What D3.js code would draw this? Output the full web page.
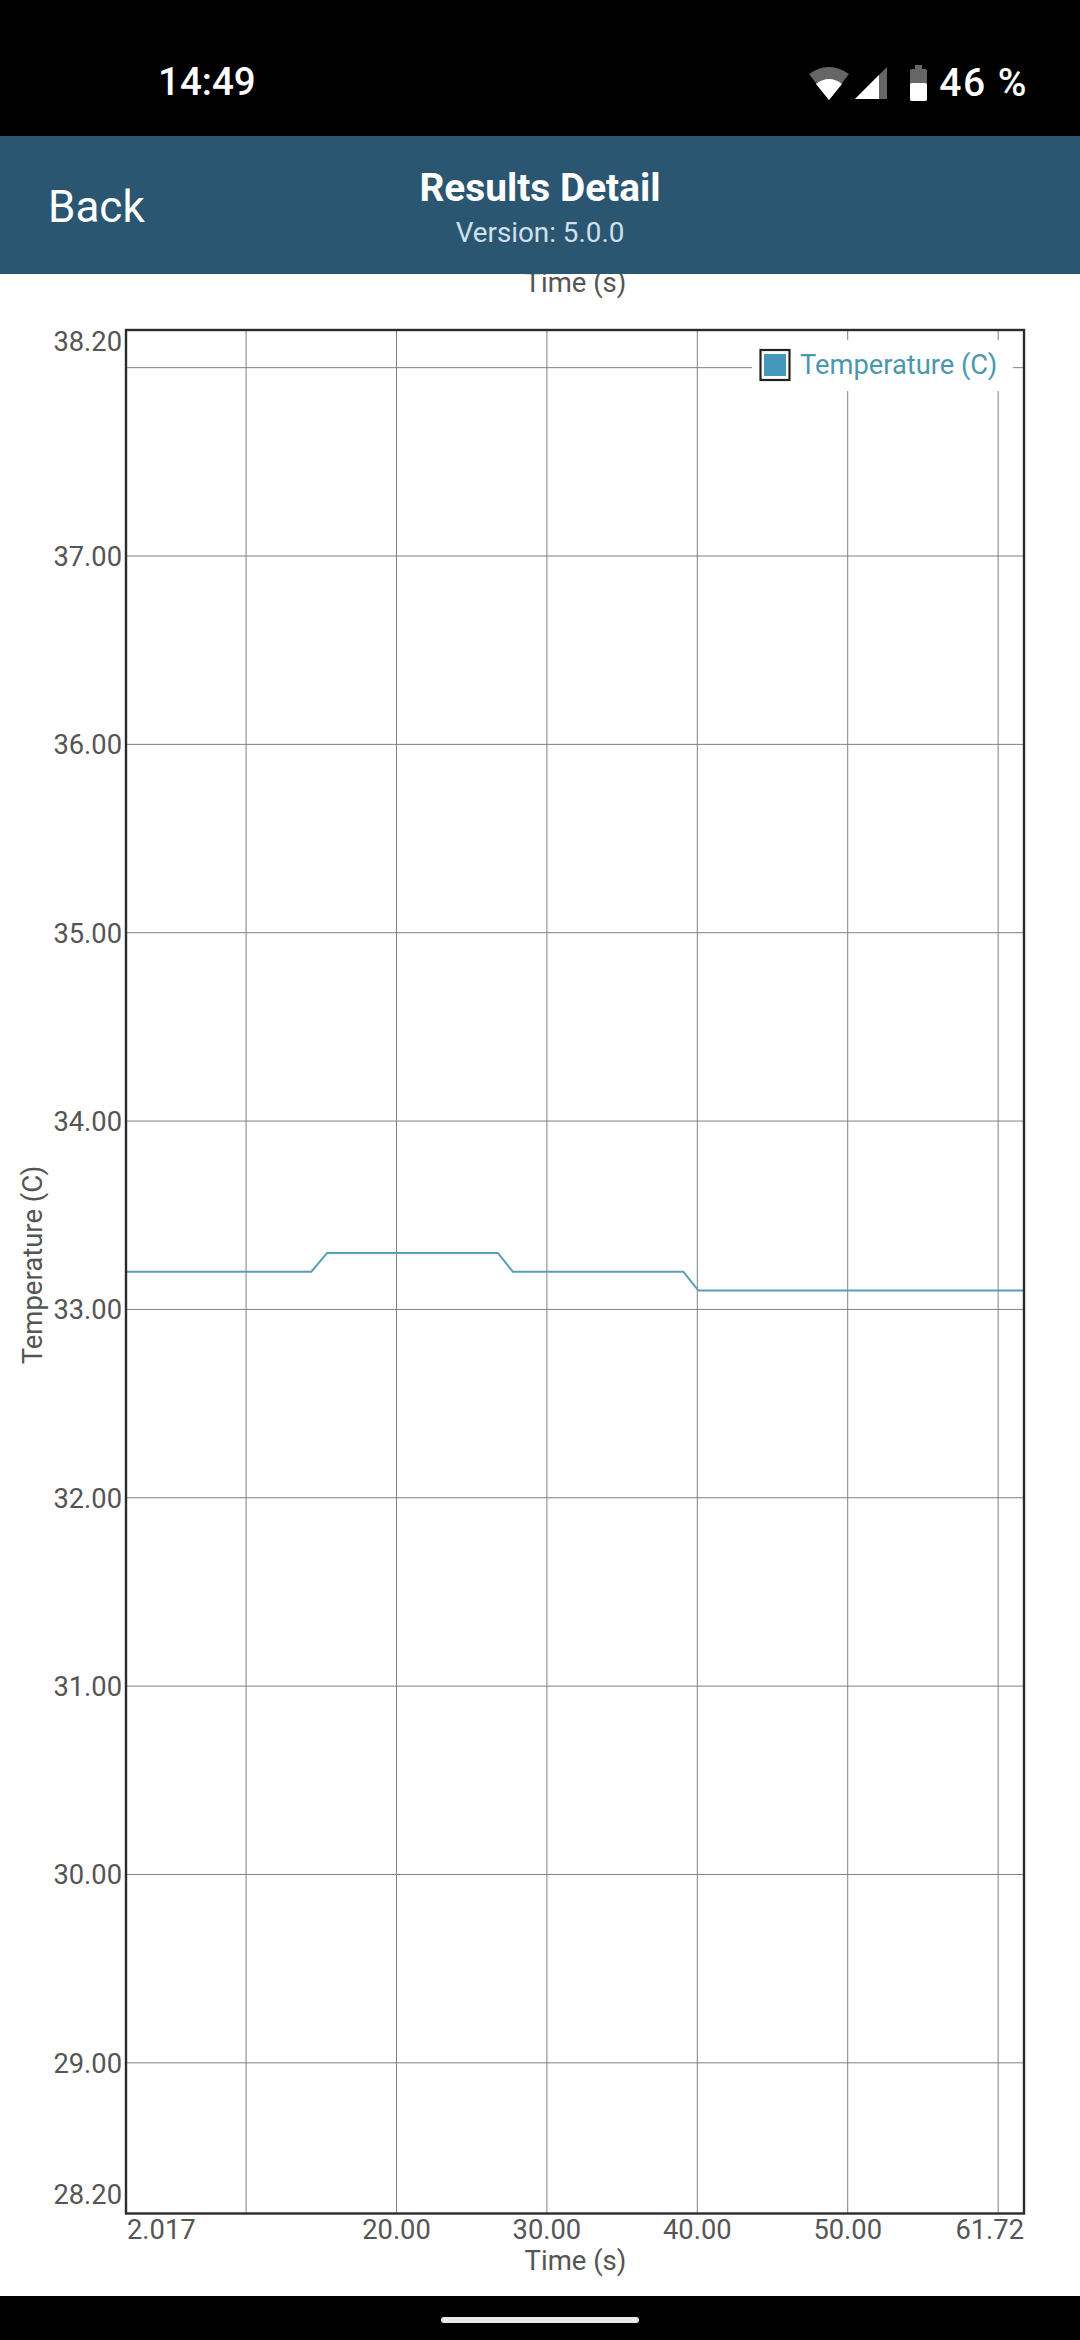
<!DOCTYPE html>
<html><head><meta charset="utf-8">
<script src="https://cdn.jsdelivr.net/npm/d3@7/dist/d3.min.js"></script>
<style>html,body{margin:0;padding:0;background:#fff}svg{display:block}</style>
</head><body><svg id="c" width="1080" height="2340"></svg>
<script>
const times = [2.017, 14.34, 15.39, 26.74, 27.74, 39.07, 40.07, 61.72];
const temps = [33.2, 33.2, 33.3, 33.3, 33.2, 33.2, 33.1, 33.1];
const xTicks = [10, 20, 30, 40, 50, 60];
const xLabelTicks = [20, 30, 40, 50];
const yTicks = [29, 30, 31, 32, 33, 34, 35, 36, 37, 38];
const yLabelTicks = [29, 30, 31, 32, 33, 34, 35, 36, 37];
const xDomain = [2.017, 61.72];
const yDomain = [28.2, 38.2];
const seriesName = "Temperature (C)";
const xTitle = "Time (s)";
const FONT = "Roboto, sans-serif";
const left = 126, right = 1024, top_ = 330, bottom = 2213.5;
const x = d3.scaleLinear().domain(xDomain).range([left, right]);
const y = d3.scaleLinear().domain(yDomain).range([bottom, top_]);
const svg = d3.select("#c");
const ink = "#555555";
// plot grid
const grid = svg.append("g");
grid.selectAll("line.v").data(xTicks).join("line").attr("class","v")
  .attr("x1",d=>x(d)).attr("x2",d=>x(d)).attr("y1",top_).attr("y2",bottom)
  .attr("stroke","#808080").attr("stroke-width",1);
grid.selectAll("line.h").data(yTicks).join("line").attr("class","h")
  .attr("y1",d=>y(d)).attr("y2",d=>y(d)).attr("x1",left).attr("x2",right)
  .attr("stroke","#808080").attr("stroke-width",1);
// series
svg.append("path").datum(times.map((t,i)=>[t,temps[i]]))
  .attr("d",d3.line().x(d=>x(d[0])).y(d=>y(d[1])))
  .attr("fill","none").attr("stroke","#5b9db3").attr("stroke-width",2);
// legend
svg.append("rect").attr("x",752).attr("y",340).attr("width",261).attr("height",51).attr("fill","#fff");
svg.append("rect").attr("x",760.5).attr("y",350).attr("width",29).attr("height",30).attr("fill","#fff").attr("stroke","#222").attr("stroke-width",2.2);
svg.append("rect").attr("x",764).attr("y",354).attr("width",22).attr("height",22).attr("fill","#4499bb");
svg.append("text").attr("x",800).attr("y",374).attr("font-family",FONT).attr("font-size",27.3).attr("fill","#4a98b0").text(seriesName);
// frame
svg.append("rect").attr("x",left).attr("y",top_).attr("width",right-left).attr("height",bottom-top_)
  .attr("fill","none").attr("stroke","#2b2b2b").attr("stroke-width",2.4);
// y labels
const yl = svg.append("g").attr("font-family",FONT).attr("font-size",27.3).attr("fill",ink).attr("text-anchor","end");
yl.selectAll("text").data(yLabelTicks).join("text").attr("x",122).attr("y",d=>y(d)+10).text(d=>d3.format(".2f")(d));
yl.append("text").attr("x",122).attr("y",351).text(d3.format(".2f")(yDomain[1]));
yl.append("text").attr("x",122).attr("y",2204).text(d3.format(".2f")(yDomain[0]));
svg.append("text").attr("transform","translate(42,1265) rotate(-90)").attr("text-anchor","middle")
  .attr("font-family",FONT).attr("font-size",27.5).attr("fill",ink).text("Temperature (C)");
// x labels
const xl = svg.append("g").attr("font-family",FONT).attr("font-size",27.3).attr("fill",ink);
xl.selectAll("text").data(xLabelTicks).join("text").attr("x",d=>x(d)).attr("y",2239).attr("text-anchor","middle").text(d=>d3.format(".2f")(d));
xl.append("text").attr("x",left+1).attr("y",2239).text(d3.format(".3f")(xDomain[0]));
xl.append("text").attr("x",right).attr("y",2239).attr("text-anchor","end").text(d3.format(".2f")(xDomain[1]));
svg.append("text").attr("x",575.5).attr("y",2270).attr("text-anchor","middle").attr("font-family",FONT).attr("font-size",27.5).attr("fill",ink).text(xTitle);
svg.append("text").attr("x",575.5).attr("y",292).attr("text-anchor","middle").attr("font-family",FONT).attr("font-size",27.5).attr("fill",ink).text(xTitle);
// app bar
svg.append("rect").attr("width",1080).attr("height",136).attr("fill","#000");
svg.append("rect").attr("y",136).attr("width",1080).attr("height",138).attr("fill","#2a5672");
svg.append("text").attr("x",48).attr("y",221.5).attr("font-family",FONT).attr("font-size",44).attr("fill","#fff").text("Back");
svg.append("text").attr("x",540).attr("y",201).attr("text-anchor","middle").attr("font-family",FONT).attr("font-weight",700).attr("font-size",38.8).attr("fill","#fff").text("Results Detail");
svg.append("text").attr("x",540).attr("y",242).attr("text-anchor","middle").attr("font-family",FONT).attr("font-size",27.8).attr("fill","#cfe0ea").text("Version: 5.0.0");
// status bar
svg.append("text").attr("x",158).attr("y",95).attr("font-family",FONT).attr("font-weight",500).attr("font-size",38.5).attr("fill","#fff").text("14:49");
svg.append("text").attr("x",1028).attr("y",96).attr("text-anchor","end").attr("font-family",FONT).attr("font-weight",500).attr("font-size",39).attr("letter-spacing",1.5).attr("fill","#fff").text("46 %");
svg.append("path").attr("d","M809 74 Q829 60 849 74 L829 100 Z").attr("fill","#666");
svg.append("path").attr("d","M816 84 Q829 74 842 84 L829 100 Z").attr("fill","#fff");
svg.append("path").attr("d","M855 99 L887 67 L887 99 Z").attr("fill","#666");
svg.append("path").attr("d","M855 99 L879 75 L879 99 Z").attr("fill","#fff");
svg.append("rect").attr("x",910).attr("y",69).attr("width",17).attr("height",32).attr("rx",2).attr("fill","#666");
svg.append("rect").attr("x",915).attr("y",65).attr("width",7).attr("height",5).attr("fill","#666");
svg.append("rect").attr("x",910).attr("y",83).attr("width",17).attr("height",18).attr("rx",2).attr("fill","#fff");
// nav bar
svg.append("rect").attr("y",2296).attr("width",1080).attr("height",44).attr("fill","#000");
svg.append("rect").attr("x",441).attr("y",2317).attr("width",198).attr("height",6).attr("rx",3).attr("fill","#e8e8e8");
</script></body></html>
